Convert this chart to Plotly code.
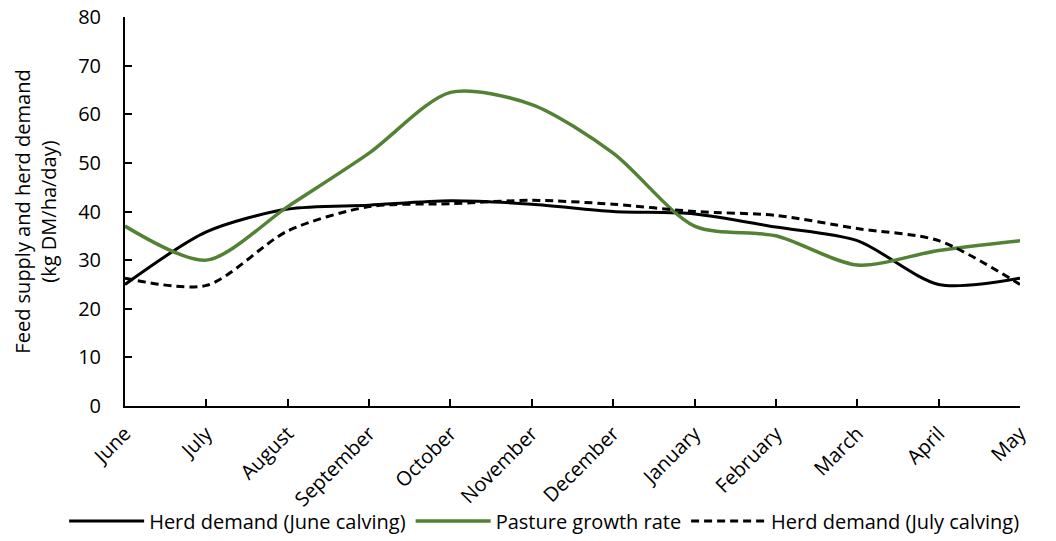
import plotly.graph_objects as go

months = ["June", "July", "August", "September", "October", "November",
          "December", "January", "February", "March", "April", "May"]
june_calving = [25.0, 35.8, 40.5, 41.3, 42.2, 41.5, 40.0, 39.5, 36.8, 34.0, 25.0, 26.3]
pasture = [37.0, 30.0, 41.0, 52.0, 64.5, 62.0, 52.0, 37.0, 35.0, 29.0, 32.0, 34.0]
july_calving = [26.3, 24.8, 36.0, 41.0, 41.6, 42.3, 41.5, 40.0, 39.2, 36.5, 34.0, 25.0]

x = list(range(len(months)))
FONT = "Open Sans"
FS = 20

fig = go.Figure()
fig.add_trace(go.Scatter(x=x, y=june_calving, mode="lines", name="Herd demand (June calving)",
                         line=dict(color="black", width=3, shape="spline", smoothing=0.8)))
fig.add_trace(go.Scatter(x=x, y=pasture, mode="lines", name="Pasture growth rate",
                         line=dict(color="#548235", width=3.5, shape="spline", smoothing=0.8)))
fig.add_trace(go.Scatter(x=x, y=july_calving, mode="lines", name="Herd demand (July calving)",
                         line=dict(color="black", width=3, dash="8px,5px", shape="spline", smoothing=0.8)))

fig.update_layout(
    width=1056, height=557,
    margin=dict(l=125, r=36, t=17, b=151),
    plot_bgcolor="white", paper_bgcolor="white",
    font=dict(family=FONT, size=FS, color="black"),
    xaxis=dict(range=[0, 11], tickmode="array", tickvals=x, ticktext=months,
               tickangle=-45, showgrid=False, zeroline=False, showline=True,
               linecolor="black", linewidth=2, ticks="inside", ticklen=7,
               tickcolor="black", tickwidth=1.5, tickfont=dict(size=FS),
               ticklabelstandoff=6, automargin=False),
    yaxis=dict(range=[0, 80], dtick=10, showgrid=False, zeroline=False, showline=True,
               linecolor="black", linewidth=2, ticks="inside", ticklen=7,
               tickcolor="black", tickwidth=1.5, tickfont=dict(size=FS),
               ticklabelstandoff=18, automargin=False,
               title=dict(text="Feed supply and herd demand<br>(kg DM/ha/day)",
                          font=dict(size=FS), standoff=16)),
    legend=dict(orientation="h", x=-0.068, xanchor="left", y=-0.2956, yanchor="middle",
                font=dict(size=FS), itemwidth=75, traceorder="normal",
                bgcolor="rgba(0,0,0,0)"),
    showlegend=True,
)

fig.write_html("out.html", config={"displayModeBar": False},
               post_script="document.body.style.margin='0';"
                           "document.body.style.overflow='hidden';"
                           "document.documentElement.style.overflow='hidden';")
